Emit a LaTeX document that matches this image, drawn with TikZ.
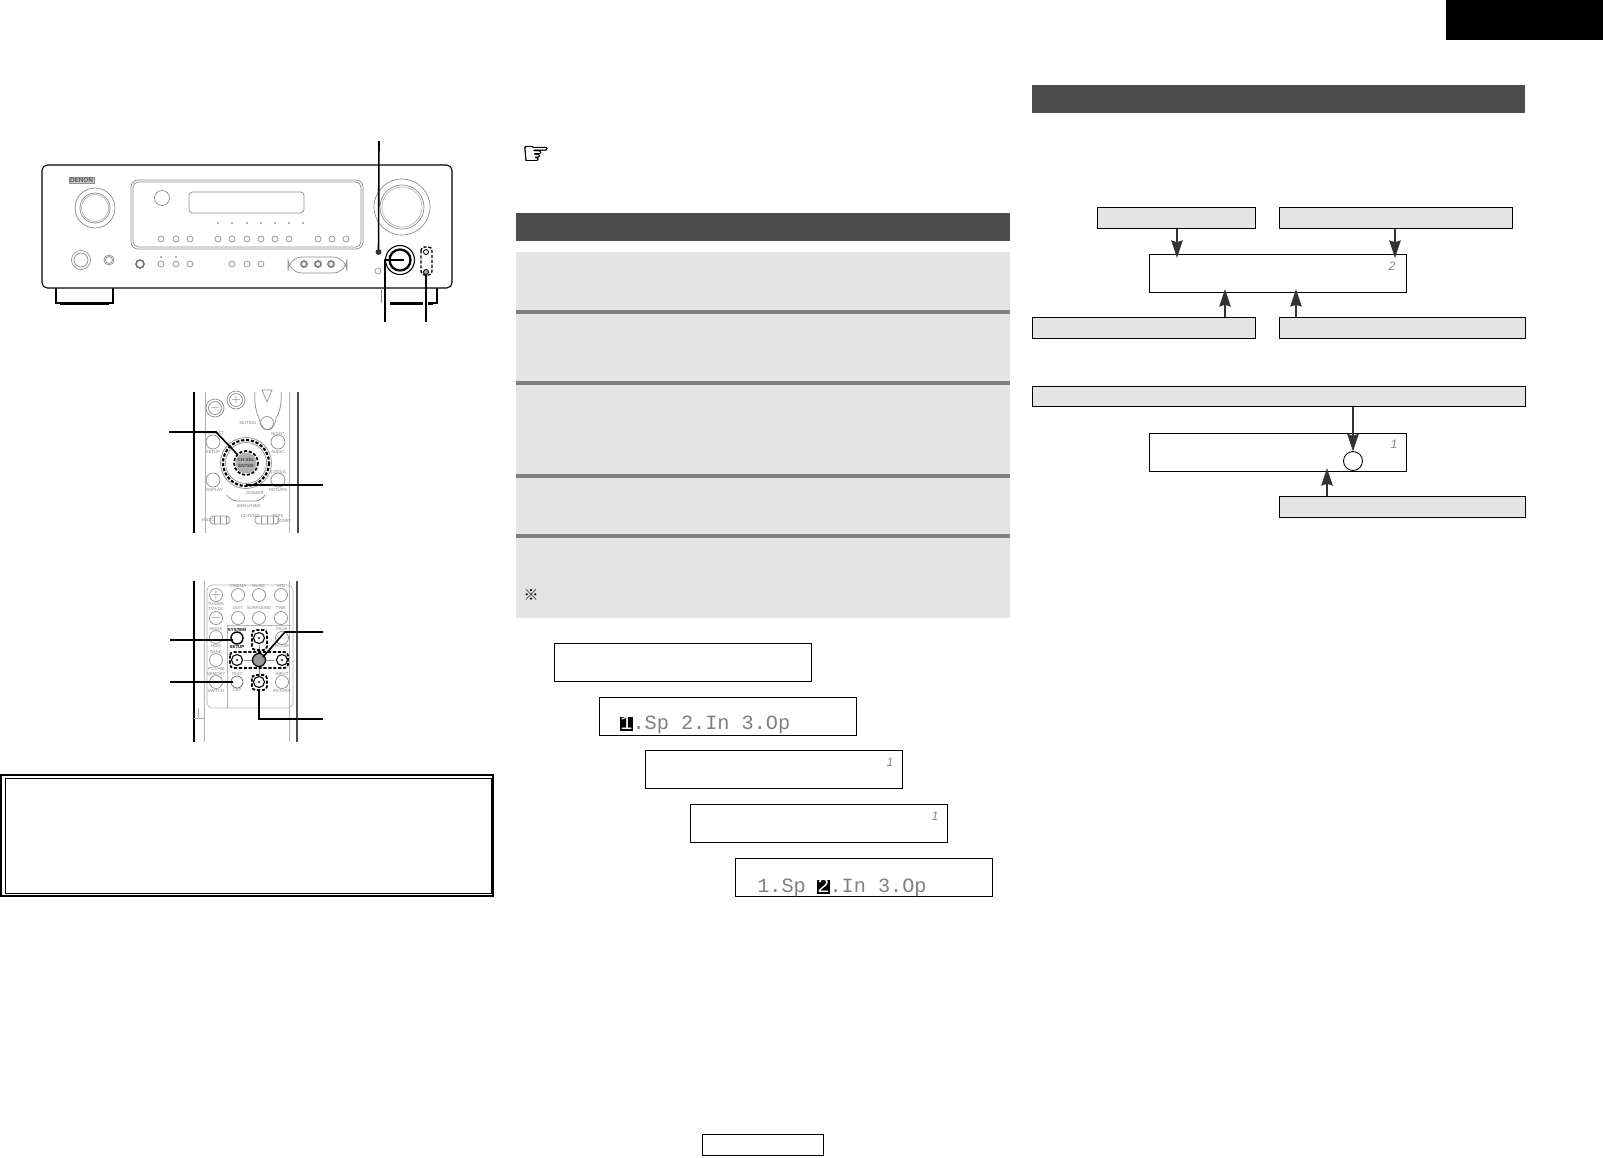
\documentclass[tikz,border=0pt]{standalone}
\usepackage{fontspec}
\setmainfont{Liberation Sans}
\setmonofont{Liberation Mono}
\newfontfamily\symfont[FakeBold=1.2]{DejaVu Sans}
\newfontfamily\refmark{Noto Sans CJK JP}
\usepackage{tikz}
\usetikzlibrary{arrows.meta,shapes,positioning}
\definecolor{panelgray}{HTML}{E4E4E4}
\definecolor{sepgray}{HTML}{808080}
\definecolor{headgray}{HTML}{4D4D4D}
\definecolor{arrowgray}{HTML}{333333}

\begin{document}
\begin{tikzpicture}[x=0.02cm, y=-0.02cm, >=Stealth,
    every node/.style={inner sep=0pt, outer sep=0pt},
    body/.style={line width=0.6pt, black},
    part/.style={line width=0.4pt, black!45},
    faint/.style={line width=0.35pt, black!30},
    leader/.style={line width=0.9pt, black},
    dashring/.style={line width=1pt, black, dash pattern=on 1.8pt off 1pt},
    reclabel/.style={font=\fontsize{2.4}{3}\selectfont, text=black!50},
    headbar/.style={fill=headgray, minimum width=9.88cm, minimum height=0.56cm},
    panel/.style={fill=panelgray, minimum width=9.88cm},
    lcdbox/.style={draw, line width=0.5pt, fill=white, minimum width=5.14cm, minimum height=0.76cm},
    flowbox/.style={draw, line width=0.5pt, fill=panelgray, minimum height=0.43cm},
    flowarrow/.style={->, line width=1pt, arrowgray, >={Stealth[length=10pt,width=6.5pt,inset=1pt]}},
    lcdtext/.style={font=\ttfamily\fontsize{11.5}{12}\selectfont, text=black!50, text height=7.2pt, text depth=0.6pt},
    lcdmark/.style={lcdtext, fill=black, text=white},
    lcddigit/.style={font=\itshape\fontsize{7}{8}\selectfont, text=black!45}]
  \useasboundingbox (0,0) rectangle (1603,1157);

  % page tab and headers
  \fill[black] (1446,0) rectangle (1603,40);
  \node[headbar] (headright) at (1278.5,99) {};
  \node[headbar] (headmid) at (763,227) {};
  \node[font=\symfont\fontsize{18}{18}\selectfont] (handmark) at (536,155) {☞};

  % receiver front
  \draw[body, rounded corners=3pt] (42,165) rectangle (452,288);
  \draw[body] (56,288) -- (56,303) -- (113,303) -- (113,288);
  \draw[line width=1.2pt] (60,303.5) -- (109,303.5);
  \draw[part] (381,288) -- (381,303);
  \draw[body] (437,288) -- (437,303) -- (433,303);
  \draw[line width=1.2pt] (390,303.5) -- (423,303.5);
  \draw[line width=1.2pt] (428,303.5) -- (433,303.5);
  \draw[part, fill=black!20] (69,177) rectangle (94,183);
  \node[font=\bfseries\fontsize{3.6}{4}\selectfont, text=black!70] (logo) at (81.5,180) {DENON};
  \draw[part] (95,208) circle[radius=20];
  \draw[part] (95,208) circle[radius=15];
  \draw[faint] (95,208) circle[radius=13.5];
  \draw[part, rounded corners=4pt] (131,180) rectangle (363,249);
  \draw[part, rounded corners=3pt] (133,182) rectangle (361,247);
  \draw[part] (162,198) circle[radius=7.5];
  \draw[part, rounded corners=2pt] (189,192) rectangle (304,213);
  \foreach \x in {218,232,247,261,275,289,303}
    \fill[black!60] (\x,223) circle[radius=0.8];
  \foreach \x in {161,176,190,218,232,247,261,275,289,318,332,346}
    \draw[part] (\x,239) circle[radius=3];
  \foreach \x in {161,176,190,232,247,261}
    \draw[part] (\x,264) circle[radius=3];
  \foreach \x in {161,176}
    \fill[black!60] (\x,257) circle[radius=0.8];
  \draw[part] (81,260) circle[radius=9.5];
  \draw[part] (81,260) circle[radius=7];
  \draw[part] (109,260) circle[radius=5];
  \draw[part] (109,260) circle[radius=3.5];
  \draw[line width=0.9pt, black!55] (140,264) circle[radius=4];
  \draw[part, rounded corners=8pt] (288,257) rectangle (347,273);
  \foreach \x in {304,318,331}
    \draw[line width=1pt, black!50] (\x,264) circle[radius=3];
  \draw[part] (402,207) circle[radius=28];
  \draw[part] (402,207) circle[radius=22];
  \draw[faint] (402,207) circle[radius=20];
  \draw[part] (378,271) circle[radius=3];

  % receiver call-outs
  \coordinate (standbytop) at (379,141);
  \node[circle, fill=black!80, minimum size=0.12cm] (standbyhole) at (378.5,252) {};
  \draw[leader] (standbytop) -- (standbyhole);
  \draw[line width=0.6pt] (400,260) circle[radius=14.5];
  \draw[line width=1.3pt] (400,260) circle[radius=10.5];
  \coordinate (knobfoot) at (385,322);
  \coordinate (knobin) at (404,260);
  \draw[leader] (knobfoot) |- (knobin);
  \draw[dashring, line width=0.8pt, rounded corners=2pt] (421,247) rectangle (432,275);
  \node[circle, draw, line width=0.5pt, minimum size=0.1cm] (keyup) at (426,252) {};
  \node[circle, draw, line width=0.5pt, fill=black!30, minimum size=0.1cm] (keydown) at (426,272) {};
  \coordinate (keyfoot) at (426,322);
  \draw[leader] (keyfoot) -- (keydown);

  % upper remote
  \draw[line width=1pt] (194,392) -- (194,533);
  \draw[line width=1.4pt, black!70] (298,392) -- (298,533);
  \draw[faint] (205,392) -- (205,533);
  \draw[faint] (289,392) -- (289,533);
  \draw[part] (215,408) circle[radius=9];
  \draw[part] (215,408) circle[radius=6.5];
  \draw[part] (236,400) circle[radius=9];
  \draw[part] (236,400) circle[radius=6.5];
  \node[font=\fontsize{6}{6}\selectfont, text=black!50] (remminus) at (215,408) {$-$};
  \node[font=\fontsize{6}{6}\selectfont, text=black!50] (remplus) at (236,400) {$+$};
  \draw[part] (255,392) .. controls (254,402) and (256,412) .. (259,418)
    .. controls (262,434) and (274,434) .. (276,418)
    .. controls (280,412) and (282,402) .. (281,392);
  \draw[part] (262,390) -- (272,390) -- (267,402) -- cycle;
  \draw[part] (267,423) circle[radius=6.5];
  \node[reclabel] (lblmuting) at (248,423) {MUTING};
  \draw[part] (213,442) circle[radius=7];
  \draw[part] (278,442) circle[radius=7];
  \draw[part] (213,480) circle[radius=7];
  \draw[part] (278,480) circle[radius=7];
  \node[reclabel] (lblselect) at (214,433) {N.SELECT};
  \node[reclabel] (lblsetup) at (213,452) {SETUP};
  \node[reclabel] (lblnight) at (278,434) {NIGHT};
  \node[reclabel] (lblaudio) at (278,452) {AUDIO};
  \node[reclabel] (lblstatus) at (278,472) {STATUS};
  \node[reclabel] (lblreturn) at (278,490) {RETURN};
  \node[reclabel] (lbldisplay) at (214,490) {DISPLAY};
  \node[reclabel] (lbldimmer) at (255,493) {DIMMER};
  \node[reclabel] (lblmenu) at (249,506) {MENU/HIDE};
  \draw[part, rounded corners=4pt] (227,495) -- (230,501) -- (262,501) -- (265,495);
  \draw[part] (246,463) circle[radius=25.5];
  \draw[dashring, line width=1.2pt] (246,463) circle[radius=23];
  \draw[part] (246,463) circle[radius=20.5];
  \draw[dashring] (246,463) circle[radius=12];
  \node[circle, fill=black!30, minimum size=0.42cm] (enterdial) at (246,463) {};
  \node[font=\bfseries\fontsize{2.6}{3.4}\selectfont, align=center, text=black!75] (enterlbl) at (246,463) {CH SEL\\ENTER};
  \coordinate (dialtail) at (169,432);
  \coordinate (dialbend) at (216,432);
  \coordinate (dialinner) at (237,454);
  \draw[leader] (dialtail) -- (dialbend) -- (dialinner);
  \coordinate (ringin) at (246,485);
  \coordinate (ringtail) at (323,485);
  \draw[leader] (ringin) -- (ringtail);
  \node[reclabel] (lblaudb) at (208,520) {AUDIO};
  \node[reclabel] (lblcdr) at (250,516) {CD-R/MD};
  \node[reclabel] (lbltape) at (278,516) {TAPE};
  \node[reclabel] (lblzone) at (284,521) {ZONE2};
  \foreach \x/\w in {220/10,267/12}
    \draw[part, rounded corners=2pt] (\x-\w,516) rectangle (\x+\w,524);
  \foreach \x in {214,220,226,261,267,273}
    \draw[part] (\x,516) -- (\x,524);

  % lower remote
  \draw[line width=1pt] (194,581) -- (194,742);
  \draw[line width=1.4pt, black!70] (297,581) -- (297,742);
  \draw[faint] (204,581) -- (204,742);
  \draw[faint] (289,581) -- (289,742);
  \draw[faint, rounded corners=3pt] (207,585) rectangle (293,708);
  \draw[faint, rounded corners=3pt] (227,625) -- (291,625);
  \draw[faint] (227,625) -- (227,708);
  \draw[faint] (194,718) -- (204,718);
  \draw[faint] (198,708) -- (198,718);
  \foreach \x/\y in {238/595,259/595,281/595,238/618,259/618,281/618,216/595,216/618,216/660,216/682,282/682}
    \draw[part] (\x,\y) circle[radius=6.5];
  \draw[part] (282,638) circle[radius=6.5];
  \draw[part] (216,637) circle[radius=6.5];
  \node[font=\fontsize{6}{6}\selectfont, text=black!50] (tvplus) at (216,595) {$+$};
  \node[font=\fontsize{6}{6}\selectfont, text=black!50] (tvminus) at (216,618) {$-$};
  \node[reclabel] (lblcinema) at (238,586) {CINEMA};
  \node[reclabel] (lblmusic) at (259,586) {MUSIC};
  \node[reclabel] (lblstd) at (281,586) {STD};
  \node[reclabel] (lbldist) at (238,608) {DIST};
  \node[reclabel] (lblsurr) at (259,608) {SURROUND};
  \node[reclabel] (lbltime) at (281,608) {TIME};
  \node[reclabel, align=center] (lbltuning) at (216,606.5) {TUNING\\TV/VOL};
  \node[reclabel] (lblmode) at (216,629) {MODE};
  \node[reclabel] (lblhdm) at (216,646) {HDM};
  \node[reclabel] (lblband) at (216,652) {BAND};
  \node[reclabel] (lblpct) at (216,669) {PCT/HM};
  \node[reclabel] (lblmem) at (216,674) {MEMORY};
  \node[reclabel] (lblsw) at (216,691) {SWITCH};
  \node[reclabel] (lblpage) at (282,629) {PAGE};
  \node[reclabel] (lblroom) at (282,646) {ROOM};
  \node[reclabel] (lblinput) at (282,674) {INPUT};
  \node[reclabel] (lblrtn) at (282,691) {RETURN};
  \node[reclabel] (lbltest) at (237,674) {TEST};
  \node[reclabel] (lblcbp) at (237,690) {CBP};
  \node[font=\bfseries\fontsize{2.5}{3}\selectfont] (lblsystem) at (237,630) {SYSTEM};
  \node[font=\bfseries\fontsize{2.5}{3}\selectfont] (lblsetupb) at (237,647) {SETUP};
  \draw[part] (244,660) -- (274,660);
  \draw[part] (259,645) -- (259,675);
  \node[circle, draw, line width=0.8pt, fill=white, minimum size=0.24cm] (keysystem) at (237,638) {};
  \node[circle, draw, line width=0.4pt, black!60, fill=white, minimum size=0.24cm] (keytest) at (237,682) {};
  \node[circle, draw, line width=0.6pt, fill=white, minimum size=0.22cm] (cursorup) at (259,638) {};
  \node[circle, draw, line width=0.6pt, fill=white, minimum size=0.22cm] (cursordown) at (259,682) {};
  \node[circle, draw, line width=0.6pt, fill=white, minimum size=0.22cm] (cursorleft) at (237,660) {};
  \node[circle, draw, line width=0.6pt, fill=white, minimum size=0.22cm] (cursorright) at (282,660) {};
  \foreach \a in {cursorup,cursordown,cursorleft,cursorright}
    \fill[black!70] (\a) circle[radius=1.4];
  \draw[dashring, rounded corners=2pt] (252,630) rectangle (267,650);
  \draw[dashring, rounded corners=2pt] (230,652) rectangle (288,668);
  \draw[dashring, rounded corners=2pt] (252,675) rectangle (267,690);
  \node[circle, draw, line width=0.7pt, fill=black!40, minimum size=0.26cm] (cursorenter) at (259,660) {};
  \coordinate (systemtail) at (170,640);
  \coordinate (systemend) at (233,640);
  \draw[leader] (systemtail) -- (systemend);
  \coordinate (testtail) at (170,682);
  \coordinate (testend) at (233,682);
  \draw[leader] (testtail) -- (testend);
  \coordinate (entertail) at (323,632);
  \coordinate (enterbend) at (285,632);
  \coordinate (enterend) at (263,657);
  \draw[leader] (entertail) -- (enterbend) -- (enterend);
  \coordinate (downstart) at (259,690);
  \coordinate (downtail) at (323,719);
  \draw[leader] (downstart) |- (downtail);

  % framed note
  \draw[line width=1.4pt] (1,775) rectangle (493,896);
  \draw[line width=0.5pt] (5,778) rectangle (491,893);

  % middle column
  \node[panel, minimum height=1.16cm] (panela) at (763,281) {};
  \node[panel, minimum height=1.34cm] (panelb) at (763,347.5) {};
  \node[panel, minimum height=1.78cm] (panelc) at (763,429.5) {};
  \node[panel, minimum height=1.12cm] (paneld) at (763,506) {};
  \node[panel, minimum height=1.6cm] (panele) at (763,578) {};
  \foreach \y in {310,381,474,534}
    \fill[sepgray] (516,\y) rectangle (1010,\y+4);
  \node[font=\refmark\fontsize{8.5}{9}\selectfont] (notemark) at (531,595) {※};
  \node[lcdbox] (lcda) at (683,662.5) {};
  \node[lcdbox] (lcdb) at (728,716.5) {};
  \node[lcdbox] (lcdc) at (773.5,769.5) {};
  \node[lcdbox] (lcdd) at (819,823.5) {};
  \node[lcdbox] (lcde) at (864,877.5) {};
  \node[lcdmark] (markone) at (626.5,724) {1};
  \node[lcdtext, right=0pt of markone] (menuone) {.Sp 2.In 3.Op};
  \node[lcdmark] (marktwo) at (823.5,887) {2};
  \node[lcdtext, left=6.6pt of marktwo] (menutwo) {1.Sp};
  \node[lcdtext, right=0pt of marktwo] (menuthree) {.In 3.Op};
  \node[lcddigit] (digitc) at (890,762) {1};
  \node[lcddigit] (digitd) at (935,816) {1};
  \node[draw, line width=0.5pt, minimum width=2.42cm, minimum height=0.42cm] (pagebox) at (763,1145) {};

  % right column flow
  \node[flowbox, minimum width=3.16cm] (topa) at (1176.5,218) {};
  \node[flowbox, minimum width=4.66cm] (topb) at (1396,218) {};
  \node[lcdbox] (lcdf) at (1278,273.5) {};
  \node[flowbox, minimum width=4.46cm] (bota) at (1144,328) {};
  \node[flowbox, minimum width=4.92cm] (botb) at (1402.5,328) {};
  \node[flowbox, minimum width=9.86cm, minimum height=0.41cm] (wide) at (1279,396.5) {};
  \node[lcdbox] (lcdg) at (1278,452.5) {};
  \node[flowbox, minimum width=4.92cm] (lowb) at (1402.5,507) {};
  \node[circle, draw, line width=0.5pt, minimum size=0.38cm] (okmark) at (1353,461) {};
  \node[lcddigit] (digitf) at (1392,266) {2};
  \node[lcddigit] (digitg) at (1394,444) {1};
  \coordinate (tipa) at (1177,258);
  \coordinate (tipb) at (1395,258);
  \coordinate (tipc) at (1225,289);
  \coordinate (tipd) at (1296,289);
  \coordinate (tipe) at (1327,468);
  \draw[flowarrow] (topa.south -| tipa) -- (tipa);
  \draw[flowarrow] (topb.south -| tipb) -- (tipb);
  \draw[flowarrow] (bota.north -| tipc) -- (tipc);
  \draw[flowarrow] (botb.north -| tipd) -- (tipd);
  \draw[flowarrow] (wide.south -| okmark) -- (okmark.north);
  \draw[flowarrow] (lowb.north -| tipe) -- (tipe);
\end{tikzpicture}
\end{document}
